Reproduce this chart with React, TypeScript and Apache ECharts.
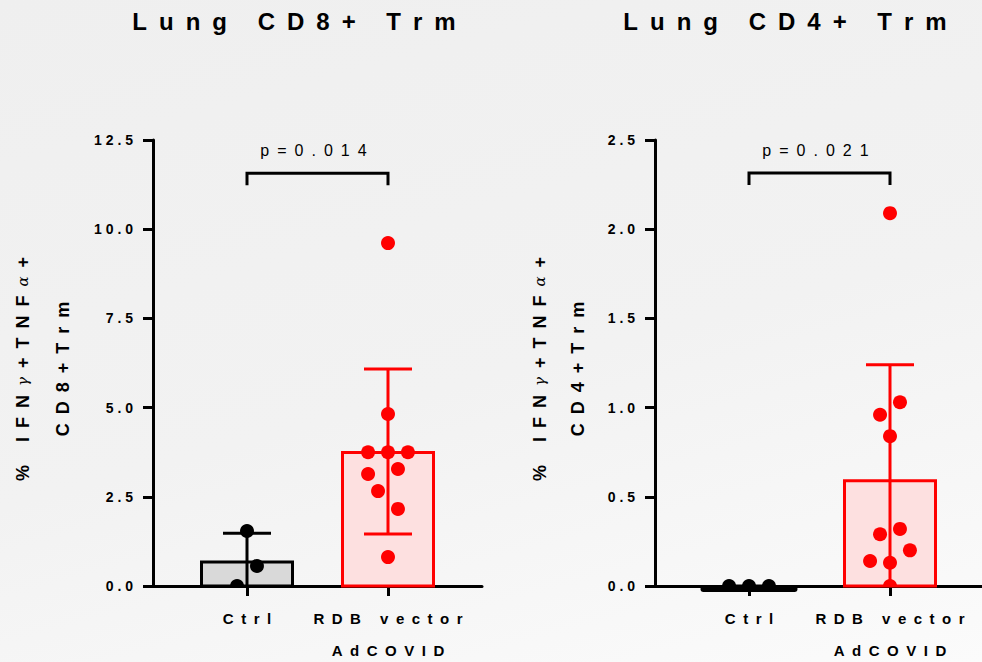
import React, { useEffect, useRef } from 'react';
import * as echarts from 'echarts';

// ---------- data ----------
const groupLabels = ['Ctrl', 'RDB vector\nAdCOVID'];
const groupX = [1, 2.5];
const titles = ['Lung CD8+ Trm', 'Lung CD4+ Trm'];
const yNames = ['CD8+ Trm', 'CD4+ Trm'];
const pValues = ['p = 0.014', 'p = 0.021'];
const bracketY = [11.57, 2.315];
const yMax = [12.5, 2.5];
const yInterval = [2.5, 0.5];

// CD8 panel
const cd8Ctrl = [1.54, 0.56, 0.0];
const cd8CtrlCol = [0, 1, -1];
const cd8Rdb = [9.61, 4.82, 3.75, 3.75, 3.75, 3.14, 3.28, 2.66, 2.16, 0.81];
const cd8RdbCol = [0, 0, -2, 0, 2, -2, 1, -1, 1, 0];
const cd8Mean = [0.67, 3.74];
const cd8Upper = [1.48, 6.08];
const cd8Lower = [-0.14, 1.46];

// CD4 panel
const cd4Ctrl = [0.0, 0.0, 0.0];
const cd4CtrlCol = [-2, 0, 2];
const cd4Rdb = [2.09, 1.03, 0.96, 0.84, 0.32, 0.29, 0.2, 0.14, 0.13, 0.0];
const cd4RdbCol = [0, 1, -1, 0, 1, -1, 2, -2, 0, 0];
const cd4Mean = [0.0, 0.59];
const cd4Upper = [0.0, 1.24];
const cd4Lower = [0.0, -0.06];

// ---------- styles ----------
const EN = '\u2002';
const FONT = '"Liberation Sans", Arial, sans-serif';
const strokeColors = ['#000000', '#ff0000'];
const fillColors = ['#d9d9d9', '#fde0e0'];
const jitterStep = 0.106;

const spaced = (s: string, wordSep = EN + ' ' + EN) =>
  s.split(' ').map((w) => w.split('').join(EN)).join(wordSep);

const panels = [
  { ctrl: cd8Ctrl, ctrlCol: cd8CtrlCol, rdb: cd8Rdb, rdbCol: cd8RdbCol, mean: cd8Mean, upper: cd8Upper, lower: cd8Lower },
  { ctrl: cd4Ctrl, ctrlCol: cd4CtrlCol, rdb: cd4Rdb, rdbCol: cd4RdbCol, mean: cd4Mean, upper: cd4Upper, lower: cd4Lower },
];

const gridLeft = [153, 655];
const titleX = [294, 785];
const nameGaps = [70, 58];
const nameLineH = [40, 38];

function buildOption() {
  const grids: any[] = [];
  const xAxes: any[] = [];
  const yAxes: any[] = [];
  const series: any[] = [];
  const graphics: any[] = [];

  panels.forEach((p, i) => {
    grids.push({ left: gridLeft[i], top: 140, width: 329, height: 446, containLabel: false, outerBoundsMode: 'none' });
    xAxes.push({
      type: 'value',
      gridIndex: i,
      min: 0,
      max: 3.5,
      interval: 0.5,
      splitLine: { show: false },
      axisLine: { show: true, onZero: false, lineStyle: { color: '#000', width: 3 } },
      axisTick: { show: true, customValues: groupX, length: 10, lineStyle: { color: '#000', width: 3 } },
      axisLabel: {
        customValues: groupX,
        margin: 16,
        color: '#000',
        fontFamily: FONT,
        fontWeight: 'bold',
        fontSize: 15,
        lineHeight: 32,
        verticalAlign: 'top',
        formatter: (v: number) => {
          const k = groupX.indexOf(v);
          if (k < 0) return '';
          return groupLabels[k].split('\n').map((l) => spaced(l)).join('\n');
        },
      },
    });
    const g = (t: string) => `{g|${t}}`;
    const b = (t: string) => `{b|${t}}`;
    const line1 = b(spaced('% IFN') + EN) + g('γ') + b(EN + '+' + EN + spaced('TNF') + EN) + g('α') + b(EN + '+');
    const line2 = b(spaced(yNames[i], EN));
    yAxes.push({
      type: 'value',
      gridIndex: i,
      min: 0,
      max: yMax[i],
      interval: yInterval[i],
      splitLine: { show: false },
      axisLine: { show: true, lineStyle: { color: '#000', width: 3 } },
      axisTick: { show: true, length: 10, lineStyle: { color: '#000', width: 3 } },
      axisLabel: {
        margin: 20,
        color: '#000',
        fontFamily: FONT,
        fontWeight: 'bold',
        fontSize: 14,
        formatter: (v: number) => v.toFixed(1).split('').join(' '),
      },
      name: line1 + '\n' + line2,
      nameLocation: 'middle',
      nameRotate: 90,
      nameGap: nameGaps[i],
      nameTextStyle: {
        color: '#000',
        lineHeight: nameLineH[i],
        padding: [0, 12, 0, 0],
        rich: {
          b: { fontFamily: FONT, fontWeight: 'bold', fontSize: 18, color: '#000', lineHeight: nameLineH[i] },
          g: { fontFamily: '"DejaVu Serif", serif', fontStyle: 'italic', fontWeight: 'normal', fontSize: 15, color: '#000', lineHeight: nameLineH[i] },
        },
      },
    });

    // bars + error bars
    series.push({
      type: 'custom',
      xAxisIndex: i,
      yAxisIndex: i,
      z: 2,
      data: groupX.map((x, k) => [x, p.mean[k], p.upper[k], p.lower[k], k]),
      renderItem: (params: any, api: any) => {
        const x = api.value(0);
        const m = api.value(1);
        const up = api.value(2);
        const lo = api.value(3);
        const k = api.value(4);
        const base = api.coord([x, 0]);
        const top = api.coord([x, m]);
        const half = 45.5;
        const stroke = strokeColors[k];
        const fill = fillColors[k];
        const pUp = api.coord([x, up]);
        const pLo = api.coord([x, Math.max(lo, 0)]);
        const cap = 24;
        const flat = Math.abs(base[1] - top[1]) < 1;
        const children: any[] = flat
          ? [
              {
                type: 'line',
                shape: { x1: base[0] - half, y1: base[1] + 3, x2: base[0] + half, y2: base[1] + 3 },
                style: { stroke, lineWidth: 6, lineCap: 'round' },
              },
            ]
          : [
              {
                type: 'polygon',
                shape: {
                  points: [
                    [base[0] - half, base[1]],
                    [base[0] - half, top[1]],
                    [base[0] + half, top[1]],
                    [base[0] + half, base[1]],
                  ],
                },
                style: { fill, stroke, lineWidth: 3, lineJoin: 'miter' },
              },
            ];
        children.push(
          { type: 'line', shape: { x1: pUp[0], y1: pUp[1], x2: pLo[0], y2: pLo[1] }, style: { stroke, lineWidth: 3 } },
          { type: 'line', shape: { x1: pUp[0] - cap, y1: pUp[1], x2: pUp[0] + cap, y2: pUp[1] }, style: { stroke, lineWidth: 3 } }
        );
        if (lo > 0) {
          children.push({ type: 'line', shape: { x1: pLo[0] - cap, y1: pLo[1], x2: pLo[0] + cap, y2: pLo[1] }, style: { stroke, lineWidth: 3 } });
        }
        return { type: 'group', children };
      },
    });

    // points (custom series so that dots are clipped by the plot area)
    const dotSeries = (vals: number[], cols: number[], k: number) => ({
      type: 'custom',
      xAxisIndex: i,
      yAxisIndex: i,
      z: 4,
      clip: true,
      data: vals.map((v, j) => [groupX[k] + cols[j] * jitterStep, v]),
      renderItem: (params: any, api: any) => {
        const c = api.coord([api.value(0), api.value(1)]);
        return {
          type: 'circle',
          shape: { cx: c[0], cy: c[1], r: 7 },
          style: { fill: strokeColors[k] },
        };
      },
    });
    series.push(dotSeries(p.ctrl, p.ctrlCol, 0));
    series.push(dotSeries(p.rdb, p.rdbCol, 1));

    // significance bracket
    series.push({
      type: 'custom',
      xAxisIndex: i,
      yAxisIndex: i,
      z: 3,
      clip: false,
      data: [[groupX[0], groupX[1], bracketY[i]]],
      renderItem: (params: any, api: any) => {
        const a = api.coord([api.value(0), api.value(2)]);
        const c = api.coord([api.value(1), api.value(2)]);
        const leg = 12;
        return {
          type: 'group',
          children: [
            {
              type: 'polyline',
              shape: { points: [[a[0], a[1] + leg], [a[0], a[1]], [c[0], c[1]], [c[0], c[1] + leg]] },
              style: { stroke: '#000', lineWidth: 3, fill: 'none', lineJoin: 'miter' },
            },
            {
              type: 'text',
              x: (a[0] + c[0]) / 2 - 4,
              y: a[1] - 23,
              style: {
                text: spaced(pValues[i], EN),
                fill: '#000',
                fontFamily: FONT,
                fontSize: 16,
                align: 'center',
                verticalAlign: 'middle',
              },
            },
          ],
        };
      },
    });

    graphics.push({
      type: 'text',
      x: titleX[i],
      y: 21,
      style: {
        text: spaced(titles[i]),
        fill: '#000',
        fontFamily: FONT,
        fontWeight: 'bold',
        fontSize: 24,
        align: 'center',
        verticalAlign: 'middle',
      },
    });
  });

  return {
    animation: false,
    backgroundColor: 'transparent',
    grid: grids,
    xAxis: xAxes,
    yAxis: yAxes,
    series,
    graphic: graphics,
  };
}

export default function App() {
  const ref = useRef<HTMLDivElement>(null);
  useEffect(() => {
    document.body.style.margin = '0';
    const chart = echarts.init(ref.current!, null, { renderer: 'svg' });
    chart.setOption(buildOption() as any);
    return () => chart.dispose();
  }, []);
  return (
    <div
      style={{
        position: 'absolute',
        left: 0,
        top: 0,
        width: 982,
        height: 662,
        background: 'linear-gradient(165deg, #efefef 0%, #f2f2f2 55%, #fbfbfb 100%)',
      }}
    >
      <div ref={ref} style={{ width: 982, height: 662 }} />
    </div>
  );
}
